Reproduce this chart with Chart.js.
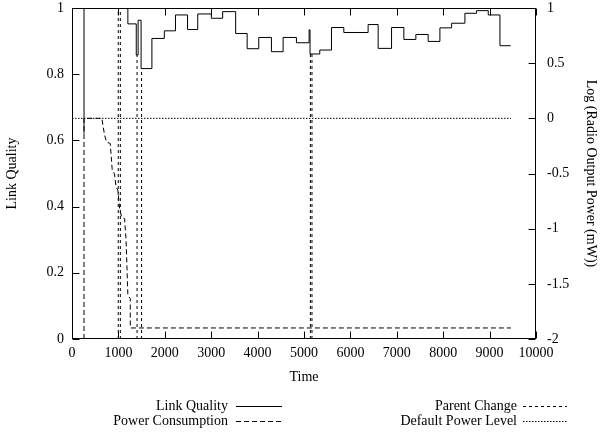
<!DOCTYPE html>
<html>
<head>
<meta charset="utf-8">
<script src="https://cdn.jsdelivr.net/npm/chart.js@4/dist/chart.umd.min.js"></script>
<style>
  html, body { margin: 0; padding: 0; background: #fff; }
  canvas { display: block; }
</style>
</head>
<body>
<canvas id="chart" width="603" height="432"></canvas>
<script>
// Link quality, held constant from each time until the next one
const linkTimes  = [259, 259, 1204, 1385, 1425, 1489, 1722, 1990, 2230, 2490, 2710, 3003, 3247, 3527, 3775, 4025, 4298, 4550, 4837, 5110, 5130, 5340, 5592, 5858, 6382, 6598, 6887, 7152, 7411, 7676, 7929, 8181, 8468, 8720, 8971, 9223, 9455];
const linkValues = [0.62, 1.0, 0.952, 0.858, 0.963, 0.817, 0.908, 0.931, 0.979, 0.935, 0.982, 0.969, 0.989, 0.923, 0.877, 0.911, 0.868, 0.911, 0.895, 0.934, 0.861, 0.873, 0.941, 0.926, 0.950, 0.878, 0.941, 0.905, 0.920, 0.899, 0.940, 0.954, 0.984, 0.992, 0.979, 0.886, 0.886];

// Log10 of radio output power (mW)
const powerTimes  = [259, 259, 643, 701, 744, 824, 867, 917, 949, 988, 1025, 1068, 1133, 1165, 1204, 1256, 1256, 9460];
const powerValues = [-2, 0, 0, -0.15, -0.215, -0.228, -0.468, -0.505, -0.622, -0.65, -0.813, -0.894, -0.908, -1.103, -1.601, -1.633, -1.9, -1.9];

// Times at which the node switched parent
const parentChangeTimes = [997, 1042, 1402, 1499, 5138, 5172];

// Default power level (log scale)
const defaultPowerTimes  = [0, 9460];
const defaultPowerValues = [0, 0];

// Axis ticks
const timeTicks    = [0, 1000, 2000, 3000, 4000, 5000, 6000, 7000, 8000, 9000, 10000];
const qualityTicks = [0, 0.2, 0.4, 0.6, 0.8, 1];
const powerTicks   = [-2, -1.5, -1, -0.5, 0, 0.5, 1];

const FONT = { family: '"Liberation Serif", "DejaVu Serif", serif', size: 14 };
const INK = '#000';

function pairs(xs, ys) {
  return xs.map((x, i) => ({ x: x, y: ys[i] }));
}

// link quality in effect at time t
function qualityAt(t) {
  let v = linkValues[0];
  for (let i = 0; i < linkTimes.length; i++) {
    if (linkTimes[i] <= t) v = linkValues[i];
  }
  return v;
}

// each parent change is an impulse from 0 up to the current link quality
const parentData = [];
parentChangeTimes.forEach(t => {
  parentData.push({ x: t, y: 0 }, { x: t, y: qualityAt(t) }, { x: t, y: null });
});

function fixedTicks(values) {
  return scale => { scale.ticks = values.map(v => ({ value: v })); };
}

function fixedWidth(w) {
  return scale => {
    scale.width = w;
    scale.paddingTop = 0;
    scale.paddingBottom = 0;
  };
}

// Gnuplot-like frame with inward tick marks, and a two-column key
const framePlugin = {
  id: 'frame',
  afterDatasetsDraw(chart) {
    const { ctx, chartArea: a, scales } = chart;
    const L = Math.round(a.left) + 0.5, R = Math.round(a.right) - 0.5;
    const T = Math.round(a.top) + 0.5, B = Math.round(a.bottom) - 0.5;
    const len = 7;
    ctx.save();
    ctx.strokeStyle = INK;
    ctx.lineWidth = 1;
    ctx.setLineDash([]);
    ctx.strokeRect(L, T, R - L, B - T);
    ctx.beginPath();
    timeTicks.forEach(v => {
      const px = Math.round(scales.x.getPixelForValue(v)) + 0.5;
      ctx.moveTo(px, B); ctx.lineTo(px, B - len);
      ctx.moveTo(px, T); ctx.lineTo(px, T + len);
    });
    qualityTicks.forEach(v => {
      const py = Math.round(scales.y.getPixelForValue(v)) + 0.5;
      ctx.moveTo(L, py); ctx.lineTo(L + len, py);
    });
    powerTicks.forEach(v => {
      const py = Math.round(scales.y2.getPixelForValue(v)) + 0.5;
      ctx.moveTo(R, py); ctx.lineTo(R - len, py);
    });
    ctx.stroke();
    ctx.restore();
  },
  afterDraw(chart) {
    const { ctx } = chart;
    const slots = [
      { ds: 0, textRight: 228, x0: 236, x1: 282, y: 406 },
      { ds: 1, textRight: 228, x0: 236, x1: 282, y: 421 },
      { ds: 2, textRight: 517, x0: 523, x1: 567, y: 406 },
      { ds: 3, textRight: 517, x0: 523, x1: 567, y: 421 }
    ];
    ctx.save();
    ctx.font = FONT.size + 'px ' + FONT.family;
    ctx.fillStyle = INK;
    ctx.textAlign = 'right';
    ctx.textBaseline = 'middle';
    slots.forEach(s => {
      const ds = chart.data.datasets[s.ds];
      ctx.fillText(ds.label, s.textRight, s.y);
      ctx.beginPath();
      ctx.strokeStyle = ds.borderColor;
      ctx.lineWidth = ds.borderWidth;
      ctx.setLineDash(ds.borderDash || []);
      ctx.moveTo(s.x0, s.y + 0.5);
      ctx.lineTo(s.x1, s.y + 0.5);
      ctx.stroke();
    });
    ctx.restore();
  }
};

new Chart(document.getElementById('chart'), {
  type: 'line',
  data: {
    datasets: [
      {
        label: 'Link Quality',
        data: pairs(linkTimes, linkValues),
        yAxisID: 'y',
        stepped: true,
        borderColor: INK,
        borderWidth: 1,
        borderDash: [],
        pointRadius: 0
      },
      {
        label: 'Power Consumption',
        data: pairs(powerTimes, powerValues),
        yAxisID: 'y2',
        borderColor: INK,
        borderWidth: 1,
        borderDash: [5, 3],
        pointRadius: 0,
        tension: 0
      },
      {
        label: 'Parent Change',
        data: parentData,
        yAxisID: 'y',
        spanGaps: false,
        borderColor: INK,
        borderWidth: 1,
        borderDash: [3, 3],
        pointRadius: 0
      },
      {
        label: 'Default Power Level',
        data: pairs(defaultPowerTimes, defaultPowerValues),
        yAxisID: 'y2',
        borderColor: INK,
        borderWidth: 1,
        borderDash: [1.5, 1.5],
        pointRadius: 0
      }
    ]
  },
  options: {
    responsive: false,
    devicePixelRatio: 1,
    animation: false,
    events: [],
    layout: { padding: { top: 8, bottom: 46, left: 0, right: 0 } },
    plugins: { legend: { display: false }, tooltip: { enabled: false } },
    scales: {
      x: {
        type: 'linear',
        position: 'bottom',
        min: 0, max: 10000,
        grid: { display: false, drawTicks: false },
        border: { display: false },
        afterBuildTicks: fixedTicks(timeTicks),
        afterFit: s => { s.height = 47; },
        ticks: {
          font: FONT, color: INK, padding: 6, maxRotation: 0, autoSkip: false,
          callback: v => String(v)
        },
        title: { display: true, text: 'Time', font: FONT, color: INK, padding: { top: 0, bottom: 0 } }
      },
      y: {
        type: 'linear',
        position: 'left',
        min: 0, max: 1,
        grid: { display: false, drawTicks: false },
        border: { display: false },
        afterBuildTicks: fixedTicks(qualityTicks),
        afterFit: fixedWidth(72),
        ticks: { font: { ...FONT, lineHeight: 1 }, color: INK, padding: 8, callback: v => String(v) },
        title: { display: true, text: 'Link Quality', font: FONT, color: INK, padding: { top: 4, bottom: 4 } }
      },
      y2: {
        type: 'linear',
        position: 'right',
        min: -2, max: 1,
        grid: { display: false, drawTicks: false },
        border: { display: false },
        afterBuildTicks: fixedTicks(powerTicks),
        afterFit: fixedWidth(67),
        ticks: { font: { ...FONT, lineHeight: 1 }, color: INK, padding: 11, callback: v => String(v) },
        title: { display: true, text: 'Log (Radio Output Power (mW))', font: FONT, color: INK, padding: { top: 4, bottom: 4 } }
      }
    }
  },
  plugins: [framePlugin]
});
</script>
</body>
</html>
